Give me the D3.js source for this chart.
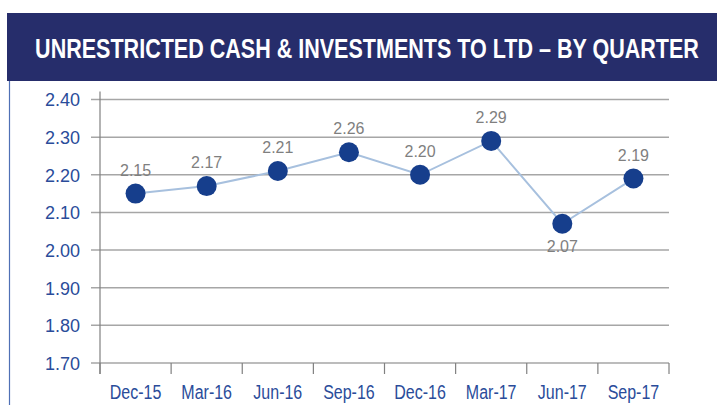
<!DOCTYPE html>
<html>
<head>
<meta charset="utf-8">
<script src="https://cdn.jsdelivr.net/npm/d3@7"></script>
<style>
  body { margin: 0; background: #fff; }
  svg { display: block; }
</style>
</head>
<body>
<svg id="chart" width="717" height="405"></svg>
<script>
(function() {
    // quarters and ratio values
    const quarters = ["Dec-15", "Mar-16", "Jun-16", "Sep-16", "Dec-16", "Mar-17", "Jun-17", "Sep-17"];
    const ratios = [2.15, 2.17, 2.21, 2.26, 2.20, 2.29, 2.07, 2.19];
    const yTicks = [1.70, 1.80, 1.90, 2.00, 2.10, 2.20, 2.30, 2.40];
    const title = "UNRESTRICTED CASH & INVESTMENTS TO LTD \u2013 BY QUARTER";

    const svg = d3.select("#chart");
    const left = 100, right = 669, top = 99.5, bottom = 363;
    const font = "'Liberation Sans', Arial, sans-serif";

    // title banner
    svg.append("rect")
        .attr("x", 7).attr("y", 13)
        .attr("width", 710).attr("height", 68)
        .attr("fill", "#262d6b");
    // no narrow font installed, so squeeze the bold sans horizontally
    const t = svg.append("text")
        .attr("text-anchor", "middle")
        .attr("fill", "#fff")
        .style("font-family", font)
        .style("font-weight", "bold")
        .style("font-size", "28px")
        .text(title);
    const tw = t.node().getComputedTextLength();
    t.attr("transform", `translate(367,57.5) scale(${664 / tw},1)`);

    // thin frame line on the left
    svg.append("line")
        .attr("x1", 9.5).attr("x2", 9.5)
        .attr("y1", 81).attr("y2", 405)
        .attr("stroke", "#4f70b5").attr("stroke-width", 1.2);

    const x = d3.scaleBand().domain(quarters).range([left, right]);
    const y = d3.scaleLinear().domain([1.70, 2.40]).range([bottom, top]);
    const cx = q => x(q) + x.bandwidth() / 2;

    // gridlines
    svg.append("g")
        .selectAll("line")
        .data(yTicks)
        .enter().append("line")
        .attr("x1", left - 9).attr("x2", right)
        .attr("y1", d => y(d)).attr("y2", d => y(d))
        .attr("stroke", "#a6a6a6").attr("stroke-width", 1.5);

    // y axis
    const yAxis = svg.append("g")
        .attr("transform", `translate(${left},0)`)
        .call(d3.axisLeft(y).tickValues(yTicks).tickFormat(d3.format(".2f")).tickSize(0).tickPadding(20));
    yAxis.select(".domain").remove();
    yAxis.selectAll("text")
        .attr("fill", "#2a4c9a")
        .attr("dy", "0.36em")
        .style("font-family", font)
        .style("font-size", "18px");
    svg.append("line")
        .attr("x1", left).attr("x2", left)
        .attr("y1", top - 8).attr("y2", bottom + 11)
        .attr("stroke", "#808080").attr("stroke-width", 1.2);

    // x axis ticks between categories
    const bounds = quarters.map(q => x(q)).concat([right]);
    svg.append("g")
        .selectAll("line")
        .data(bounds)
        .enter().append("line")
        .attr("x1", d => d).attr("x2", d => d)
        .attr("y1", bottom).attr("y2", bottom + 11)
        .attr("stroke", "#808080").attr("stroke-width", 1.2);

    svg.append("g")
        .selectAll("text")
        .data(quarters)
        .enter().append("text")
        .attr("transform", d => `translate(${cx(d)},399) scale(0.8,1)`)
        .attr("text-anchor", "middle")
        .attr("fill", "#2a4c9a")
        .style("font-family", font)
        .style("font-size", "20px")
        .text(d => d);

    // line + markers
    const pts = quarters.map((q, i) => ({ q: q, v: ratios[i] }));
    const line = d3.line()
        .x(d => cx(d.q))
        .y(d => y(d.v));
    svg.append("path")
        .datum(pts)
        .attr("d", line)
        .attr("fill", "none")
        .attr("stroke", "#a7c0de")
        .attr("stroke-width", 2);

    svg.append("g")
        .selectAll("circle")
        .data(pts)
        .enter().append("circle")
        .attr("cx", d => cx(d.q))
        .attr("cy", d => y(d.v))
        .attr("r", 10)
        .attr("fill", "#163e8c");

    // value labels, the low point gets its label below
    const minV = d3.min(ratios);
    svg.append("g")
        .selectAll("text")
        .data(pts)
        .enter().append("text")
        .attr("x", d => cx(d.q))
        .attr("y", d => d.v === minV ? y(d.v) + 28 : y(d.v) - 18)
        .attr("text-anchor", "middle")
        .attr("fill", "#7f7f7f")
        .style("font-family", font)
        .style("font-size", "16px")
        .text(d => d3.format(".2f")(d.v));
})();
</script>
</body>
</html>
